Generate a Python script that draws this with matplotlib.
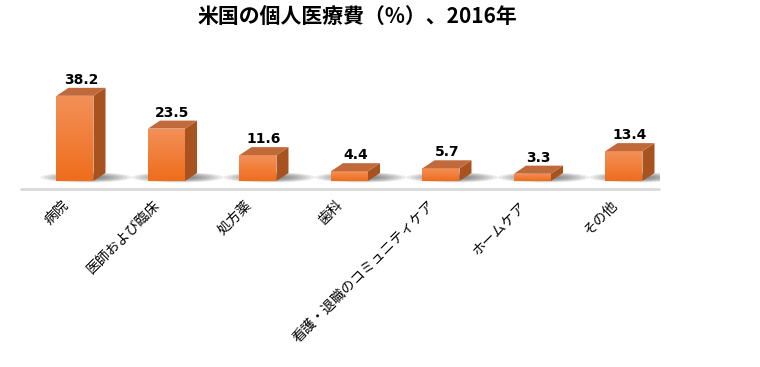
import numpy as np
import matplotlib
matplotlib.use("Agg")
import matplotlib.pyplot as plt
from matplotlib.patches import Polygon, Ellipse

plt.rcParams["font.family"] = ["Noto Sans CJK JP", "DejaVu Sans"]

categories = ["病院", "医師および臨床", "処方薬", "歯科",
              "看護・退職のコミュニティケア", "ホームケア", "その他"]
values = [38.2, 23.5, 11.6, 4.4, 5.7, 3.3, 13.4]
title = "米国の個人医療費（%）、2016年"

W, H = 760, 367
fig = plt.figure(figsize=(W / 100, H / 100), dpi=100)
# axes placed in pixel terms: left 20, right 660, bottom line at y=189, top at y=60
ax = fig.add_axes([20 / W, 1 - 189 / H, 640 / W, 129 / H])
px_x = 91.5          # pixels per category
px_y = 2.23          # pixels per percent
ax.set_xlim(-(75 - 20) / px_x, 6 + (660 - 624) / px_x)
ax.set_ylim(-(189 - 181) / px_y, (181 - 60) / px_y)
ax.axis("off")

bar_w = 37 / px_x
dx = 12 / px_x
dy = 8 / px_y

x = np.arange(len(values))

# baseline
ax.plot(ax.get_xlim(), [ax.get_ylim()[0]] * 2,
        color="#d9d9d9", lw=2, solid_capstyle="butt", clip_on=False)

# soft shadows behind the bars
for xi in x:
    for k in range(8):
        ax.add_patch(Ellipse((xi + 0.12, dy * 0.45), 1.0 - k * 0.09, 4.6 - k * 0.4,
                             color="#303030", alpha=0.09, lw=0, zorder=1))

grad = np.linspace(0, 1, 64).reshape(-1, 1)
cmap = matplotlib.colors.LinearSegmentedColormap.from_list(
    "o", ["#ef6d1c", "#f39058"])

bars = ax.bar(x, values, width=bar_w, color="none", zorder=3)
for xi, v, b in zip(x, values, bars):
    l, r = xi - bar_w / 2, xi + bar_w / 2
    im = ax.imshow(grad, extent=[l, r, 0, v], origin="lower", cmap=cmap,
                   aspect="auto", zorder=3)
    im.set_clip_path(b)
    # side face
    ax.add_patch(Polygon([(r, 0), (r + dx, dy), (r + dx, v + dy), (r, v)],
                         closed=True, color="#a8521f", lw=0, zorder=3))
    # top face
    ax.add_patch(Polygon([(l, v), (r, v), (r + dx, v + dy), (l + dx, v + dy)],
                         closed=True, color="#c06a3c", lw=0, zorder=3))
    ax.text(xi + dx / 2, v + dy + 0.4, f"{v}", ha="center", va="bottom",
            fontsize=10, fontweight="bold", family=["DejaVu Sans"], zorder=4)

for xi, lab in zip(x, categories):
    ax.text(xi - 0.15, -7.7, lab, rotation=45, ha="right", va="top",
            rotation_mode="anchor", fontsize=10, clip_on=False)

fig.text(357 / W, 1 - 16 / H, title, ha="center", va="center",
         fontsize=15, fontweight="bold")

fig.savefig("out.png", dpi=100)
